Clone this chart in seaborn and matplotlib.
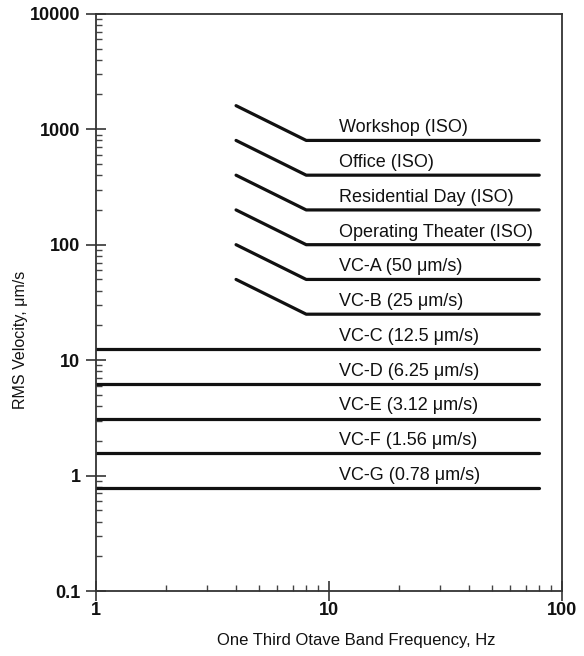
import matplotlib
matplotlib.use("Agg")
import matplotlib.pyplot as plt
import matplotlib.ticker as mticker
import numpy as np
import pandas as pd
import seaborn as sns

# ---- data ----
labels = ["Workshop (ISO)", "Office (ISO)", "Residential Day (ISO)",
          "Operating Theater (ISO)", "VC-A (50 μm/s)", "VC-B (25 μm/s)",
          "VC-C (12.5 μm/s)", "VC-D (6.25 μm/s)", "VC-E (3.12 μm/s)",
          "VC-F (1.56 μm/s)", "VC-G (0.78 μm/s)"]
levels = [800, 400, 200, 100, 50, 25, 12.5, 6.25, 3.12, 1.56, 0.78]
start_freq = [4, 4, 4, 4, 4, 4, 1, 1, 1, 1, 1]
start_vel = [1600, 800, 400, 200, 100, 50, 12.5, 6.25, 3.12, 1.56, 0.78]
knee_freq = [8, 8, 8, 8, 8, 8, 1, 1, 1, 1, 1]
end_freq = [80] * 11
label_freq = 11.1

rows = []
for name, lv, sf, sv, kf, ef in zip(labels, levels, start_freq, start_vel, knee_freq, end_freq):
    rows.append((name, 0, sf, sv))
    rows.append((name, 1, kf, lv))
    rows.append((name, 2, ef, lv))
df = pd.DataFrame(rows, columns=["criterion", "order", "freq", "vel"])

sns.set_theme(style="white")
plt.rcParams["font.family"] = ["Liberation Sans", "DejaVu Sans"]

fig = plt.figure(figsize=(5.84, 6.56), dpi=100)
ax = fig.add_axes([0.164, 0.099, 0.798, 0.880])

sns.lineplot(data=df, x="freq", y="vel", units="criterion", estimator=None,
             sort=False, color="#111111", linewidth=2.3, ax=ax, legend=False)

ax.set_xscale("log")
ax.set_yscale("log")
ax.set_xlim(1, 100)
ax.set_ylim(0.1, 10000)

for name, lv in zip(labels, levels):
    ax.annotate(name, xy=(label_freq, lv), xytext=(0, 3), textcoords="offset points",
                ha="left", va="bottom", fontsize=13, color="#111111")

ax.xaxis.set_major_locator(mticker.LogLocator(base=10, numticks=10))
ax.yaxis.set_major_locator(mticker.LogLocator(base=10, numticks=10))
ax.xaxis.set_minor_locator(mticker.LogLocator(base=10, subs=np.arange(2, 10), numticks=20))
ax.yaxis.set_minor_locator(mticker.LogLocator(base=10, subs=np.arange(2, 10), numticks=20))
ax.xaxis.set_major_formatter(mticker.FuncFormatter(lambda v, p: f"{v:g}"))
ax.yaxis.set_major_formatter(mticker.FuncFormatter(lambda v, p: f"{v:g}"))
ax.xaxis.set_minor_formatter(mticker.NullFormatter())
ax.yaxis.set_minor_formatter(mticker.NullFormatter())

ax.tick_params(which="major", direction="inout", length=14, width=1.3, color="#444444",
               labelsize=13, labelcolor="#111111", bottom=True, left=True)
ax.tick_params(axis="x", which="major", pad=1)
ax.tick_params(axis="y", which="major", pad=4)
ax.tick_params(which="minor", direction="in", length=4, width=1.0, color="#444444",
               bottom=True, left=True)
for lab in ax.get_xticklabels() + ax.get_yticklabels():
    lab.set_fontweight("bold")

for s in ax.spines.values():
    s.set_color("#333333")
    s.set_linewidth(1.3)
    s.set_visible(True)

ax.set_xlabel("One Third Otave Band Frequency, Hz", fontsize=12, color="#111111")
ax.set_ylabel("RMS Velocity, μm/s", fontsize=11.5, color="#111111")
ax.xaxis.set_label_coords(0.558, -0.072)
ax.yaxis.set_label_coords(-0.146, 0.435)

fig.savefig("out.png", dpi=100, facecolor="white")
